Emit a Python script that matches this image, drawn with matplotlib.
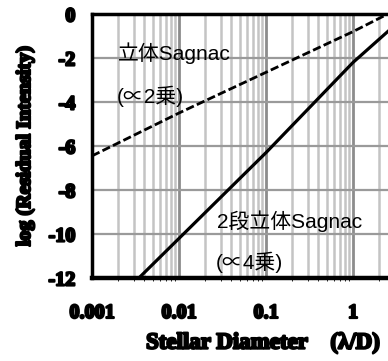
import matplotlib
matplotlib.use("Agg")
import matplotlib.pyplot as plt
import matplotlib.patheffects as pe
from matplotlib.ticker import LogLocator, NullFormatter

plt.rcParams["axes.unicode_minus"] = False

# data (x = stellar diameter in lambda/D, y = log residual intensity)
diam = [0.001, 0.01, 0.1, 1.0, 2.5]
single_sagnac = [-6.45, -4.5, -2.65, -0.8, 0.0]
double_sagnac = [-14.1, -10.2, -6.3, -2.2, -0.8]

yticks = [0, -2, -4, -6, -8, -10, -12]
xticks = [0.001, 0.01, 0.1, 1]
xticklabels = ["0.001", "0.01", "0.1", "1"]

W, H = 388, 361
fig = plt.figure(figsize=(W / 100, H / 100), dpi=100)
ax = fig.add_axes([92 / W, 1 - 278 / H, (W - 92) / W, (278 - 14) / H])

ax.set_xscale("log")
ax.set_xlim(0.001, 2.52)
ax.set_ylim(-12, 0)

ax.plot(diam, single_sagnac, color="black", lw=2.0, ls=(0, (3, 1.2)), zorder=3)
ax.plot(diam, double_sagnac, color="black", lw=2.3, zorder=3)

# grid
ax.xaxis.set_major_locator(LogLocator(base=10))
ax.xaxis.set_minor_locator(LogLocator(base=10, subs=range(2, 10)))
ax.xaxis.set_minor_formatter(NullFormatter())
ax.grid(True, which="major", axis="x", color="#8c8c8c", lw=2.0)
ax.grid(True, which="minor", axis="x", color="#c4c4c4", lw=1.8)
ax.grid(True, which="major", axis="y", color="#9a9a9a", lw=1.6)
ax.set_axisbelow(True)

bold = [pe.Stroke(linewidth=1.6, foreground="black"), pe.Normal()]
ax.set_xticks(xticks)
ax.set_xticklabels(xticklabels)
ax.set_yticks(yticks)
ax.tick_params(length=0, labelsize=14.5)
ax.tick_params(axis="x", pad=18)
ax.tick_params(axis="y", pad=12)
for lab in ax.get_xticklabels() + ax.get_yticklabels():
    lab.set_fontfamily("Liberation Serif")
    lab.set_fontweight("bold")
    lab.set_path_effects(bold)

for side in ["left", "top"]:
    ax.spines[side].set_linewidth(2.5)
ax.spines["bottom"].set_linewidth(3.2)
ax.spines["right"].set_visible(False)

fig.text(25 / W, 1 - 146 / H, "log (Residual Intensity)", rotation=90,
         ha="center", va="center", fontsize=14.5, fontweight="bold",
         family="Liberation Serif", path_effects=bold)
fig.text(263 / W, 1 - 343 / H, "Stellar Diameter    (\u03bb/D)",
         ha="center", va="center", fontsize=16.5, fontweight="bold",
         family="Liberation Serif", path_effects=bold)

jp = ["Liberation Sans", "Noto Sans CJK JP"]
fig.text(118 / W, 1 - 53 / H, "立体Sagnac", ha="left", va="center",
         fontsize=15, family=jp)
fig.text(117 / W, 1 - 96 / H, "(∝2乗)", ha="left", va="center",
         fontsize=15, family=jp)
fig.text(217 / W, 1 - 221 / H, "2段立体Sagnac", ha="left", va="center",
         fontsize=15, family=jp)
fig.text(216 / W, 1 - 262 / H, "(∝4乗)", ha="left", va="center",
         fontsize=15, family=jp)

fig.savefig("out.png", dpi=100)
